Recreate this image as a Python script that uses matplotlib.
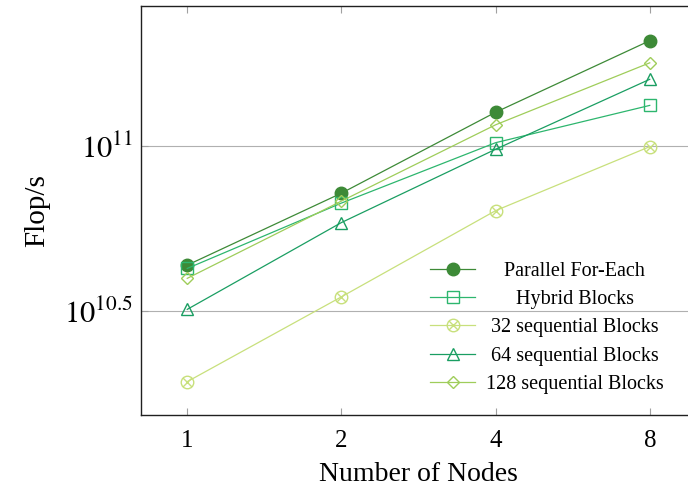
import matplotlib
matplotlib.use("Agg")
import matplotlib.pyplot as plt
from matplotlib.path import Path
from matplotlib.transforms import Bbox
from matplotlib.ticker import FixedLocator, NullLocator, FixedFormatter
import numpy as np

# Measured throughput (Flop/s) per node count
nodes = [1, 2, 4, 8]
parallel_for_each = [4.355e10, 7.194e10, 1.265e11, 2.084e11]
hybrid_blocks = [4.256e10, 6.714e10, 1.023e11, 1.327e11]
seq_blocks_32 = [1.932e10, 3.491e10, 6.368e10, 9.954e10]
seq_blocks_64 = [3.199e10, 5.861e10, 9.772e10, 1.592e11]
seq_blocks_128 = [3.972e10, 6.808e10, 1.159e11, 1.786e11]

series_labels = ["Parallel For-Each", "Hybrid Blocks", "32 sequential Blocks",
                 "64 sequential Blocks", "128 sequential Blocks"]
x_tick_labels = ["1", "2", "4", "8"]
y_ticks = [10 ** 10.5, 10 ** 11]
y_tick_labels = [r"$10^{10.5}$", r"$10^{11}$"]

plt.rcParams["font.family"] = ["Liberation Serif", "DejaVu Serif"]
plt.rcParams["mathtext.fontset"] = "stix"

# circle with an x inside (otimes marker)
_c = Path.unit_circle()
_r = np.sqrt(0.5)
_x = Path([(-_r, -_r), (_r, _r), (-_r, _r), (_r, -_r)],
          [Path.MOVETO, Path.LINETO, Path.MOVETO, Path.LINETO])
otimes = Path.make_compound_path(_c, _x)

styles = [
    dict(color="#3d8a37", marker="o", mfc="#3d8a37", ms=9),
    dict(color="#2db66e", marker="s", mfc="none", ms=8.5),
    dict(color="#c8e07c", marker=otimes, mfc="none", ms=9),
    dict(color="#1a9e62", marker="^", mfc="none", ms=8.5),
    dict(color="#9fcd5a", marker="D", mfc="none", ms=6),
]
data = [parallel_for_each, hybrid_blocks, seq_blocks_32, seq_blocks_64, seq_blocks_128]

fig = plt.figure(figsize=(6.88, 4.88), dpi=100)
ax = fig.add_axes([141 / 688, 73 / 488, 555 / 688, 409 / 488])

for ys, lab, st in zip(data, series_labels, styles):
    ax.plot(nodes, ys, lw=0.9, mew=1.0, label=lab, **st)

ax.set_xscale("log", base=2)
ax.set_yscale("log")
ax.set_xlim(1 / 2 ** 0.3, 8 * 2 ** 0.3)
ax.set_ylim(10 ** 10.185, 10 ** 11.424)

ax.xaxis.set_major_locator(FixedLocator(nodes))
ax.xaxis.set_major_formatter(FixedFormatter(x_tick_labels))
ax.xaxis.set_minor_locator(NullLocator())
ax.yaxis.set_major_locator(FixedLocator(y_ticks))
ax.yaxis.set_major_formatter(FixedFormatter(y_tick_labels))
ax.yaxis.set_minor_locator(NullLocator())

ax.grid(axis="y", color="#b0b0b0", lw=0.8)
ax.set_axisbelow(True)
ax.tick_params(direction="in", length=5, width=0.8, color="#a0a0a0",
               top=True, labelsize=18, pad=11)
ax.tick_params(axis="y", labelsize=22, pad=6)
for s in ax.spines.values():
    s.set_linewidth(1.0)
    s.set_color("#202020")

ax.set_xlabel("Number of Nodes", fontsize=20, labelpad=7)
ax.set_ylabel("Flop/s", fontsize=21, labelpad=10)

leg = ax.legend(loc="center", bbox_to_anchor=(0.7315, 0.213), frameon=False,
                fontsize=14.5, handlelength=2.2, handletextpad=0.55,
                labelspacing=0.46, borderpad=0)

# center each legend label within its column
areas = []
for col in leg._legend_handle_box.get_children():
    for row in col.get_children():
        areas.append(row.get_children()[1])
orig = {id(a): a.get_bbox for a in areas}


def centered_bbox(area):
    def get_bbox(renderer):
        W = max(orig[id(b)](renderer).width for b in areas)
        bb = orig[id(area)](renderer)
        return Bbox.from_bounds(-W / 2, bb.y0, W, bb.height)
    return get_bbox


for a in areas:
    a._text.set_horizontalalignment("center")
    a.get_bbox = centered_bbox(a)

fig.savefig("out.png", dpi=100)
